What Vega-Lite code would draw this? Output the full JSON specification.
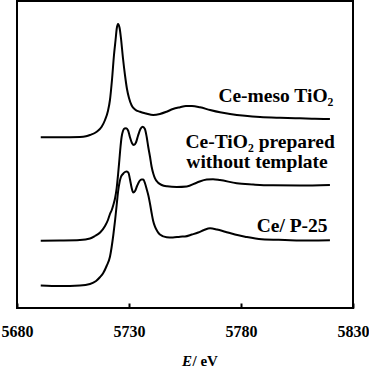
{
  "$schema": "https://vega.github.io/schema/vega-lite/v6.json",
  "width": 336,
  "height": 307,
  "autosize": "none",
  "padding": {"left": 17, "top": 1, "right": 16, "bottom": 59},
  "background": "white",
  "title": {"text": "E", "orient": "bottom", "anchor": "start", "frame": "group", "dx": 165, "offset": -2, "font": "Liberation Serif", "fontSize": 15, "fontWeight": "bold", "fontStyle": "italic", "color": "black", "baseline": "alphabetic"},
  "datasets": {
    "curves": [
      {"s": "meso", "E": 5690.6, "I": 170.7}, {"s": "meso", "E": 5699.2, "I": 170.7}, {"s": "meso", "E": 5708.1, "I": 171}, {"s": "meso", "E": 5710.8, "I": 171.7}, {"s": "meso", "E": 5712.6, "I": 173}, {"s": "meso", "E": 5715.6, "I": 176.3}, {"s": "meso", "E": 5717.8, "I": 181.3}, {"s": "meso", "E": 5719.3, "I": 188}, {"s": "meso", "E": 5720.6, "I": 197}, {"s": "meso", "E": 5721.5, "I": 208}, {"s": "meso", "E": 5722.4, "I": 228}, {"s": "meso", "E": 5723.3, "I": 253}, {"s": "meso", "E": 5724.0, "I": 268}, {"s": "meso", "E": 5724.5, "I": 279}, {"s": "meso", "E": 5725.1, "I": 284}, {"s": "meso", "E": 5725.8, "I": 280}, {"s": "meso", "E": 5726.4, "I": 270}, {"s": "meso", "E": 5727.3, "I": 250}, {"s": "meso", "E": 5728.2, "I": 233}, {"s": "meso", "E": 5729.1, "I": 219}, {"s": "meso", "E": 5730.0, "I": 210}, {"s": "meso", "E": 5731.2, "I": 202.5}, {"s": "meso", "E": 5732.7, "I": 198.5}, {"s": "meso", "E": 5734.9, "I": 196.2}, {"s": "meso", "E": 5737.6, "I": 194.5}, {"s": "meso", "E": 5740.8, "I": 193}, {"s": "meso", "E": 5743.8, "I": 194}, {"s": "meso", "E": 5746.8, "I": 196.3}, {"s": "meso", "E": 5749.6, "I": 199}, {"s": "meso", "E": 5752.8, "I": 200.8}, {"s": "meso", "E": 5755.4, "I": 202}, {"s": "meso", "E": 5758.1, "I": 202}, {"s": "meso", "E": 5761.7, "I": 200.7}, {"s": "meso", "E": 5766.2, "I": 198}, {"s": "meso", "E": 5770.6, "I": 195.7}, {"s": "meso", "E": 5775.1, "I": 194}, {"s": "meso", "E": 5781.8, "I": 192.2}, {"s": "meso", "E": 5788.5, "I": 191}, {"s": "meso", "E": 5797.4, "I": 190.2}, {"s": "meso", "E": 5806.3, "I": 189.7}, {"s": "meso", "E": 5813.0, "I": 189.3}, {"s": "meso", "E": 5819.7, "I": 189},
      {"s": "notemplate", "E": 5690.6, "I": 67.3}, {"s": "notemplate", "E": 5699.2, "I": 67.5}, {"s": "notemplate", "E": 5708.1, "I": 68}, {"s": "notemplate", "E": 5712.6, "I": 69.5}, {"s": "notemplate", "E": 5714.8, "I": 72}, {"s": "notemplate", "E": 5717.1, "I": 75.5}, {"s": "notemplate", "E": 5719.3, "I": 82}, {"s": "notemplate", "E": 5720.6, "I": 88}, {"s": "notemplate", "E": 5721.5, "I": 94}, {"s": "notemplate", "E": 5722.3, "I": 98}, {"s": "notemplate", "E": 5723.0, "I": 103}, {"s": "notemplate", "E": 5723.8, "I": 110}, {"s": "notemplate", "E": 5724.5, "I": 120}, {"s": "notemplate", "E": 5725.1, "I": 133}, {"s": "notemplate", "E": 5725.7, "I": 148}, {"s": "notemplate", "E": 5726.2, "I": 161}, {"s": "notemplate", "E": 5726.7, "I": 171}, {"s": "notemplate", "E": 5727.3, "I": 177}, {"s": "notemplate", "E": 5728.0, "I": 179.5}, {"s": "notemplate", "E": 5728.7, "I": 179.7}, {"s": "notemplate", "E": 5729.6, "I": 177.5}, {"s": "notemplate", "E": 5730.4, "I": 171}, {"s": "notemplate", "E": 5731.3, "I": 165}, {"s": "notemplate", "E": 5732.2, "I": 163}, {"s": "notemplate", "E": 5733.1, "I": 165.5}, {"s": "notemplate", "E": 5734.0, "I": 172}, {"s": "notemplate", "E": 5735.1, "I": 179}, {"s": "notemplate", "E": 5736.1, "I": 181.3}, {"s": "notemplate", "E": 5737.1, "I": 179}, {"s": "notemplate", "E": 5737.9, "I": 171}, {"s": "notemplate", "E": 5738.6, "I": 161}, {"s": "notemplate", "E": 5739.4, "I": 151}, {"s": "notemplate", "E": 5740.1, "I": 141.3}, {"s": "notemplate", "E": 5740.9, "I": 134}, {"s": "notemplate", "E": 5741.6, "I": 129.7}, {"s": "notemplate", "E": 5742.9, "I": 125.5}, {"s": "notemplate", "E": 5744.6, "I": 123}, {"s": "notemplate", "E": 5747.0, "I": 121.7}, {"s": "notemplate", "E": 5751.3, "I": 121}, {"s": "notemplate", "E": 5755.8, "I": 121.5}, {"s": "notemplate", "E": 5760.4, "I": 125.5}, {"s": "notemplate", "E": 5764.7, "I": 128.5}, {"s": "notemplate", "E": 5767.5, "I": 128.8}, {"s": "notemplate", "E": 5770.6, "I": 128}, {"s": "notemplate", "E": 5778.1, "I": 124.7}, {"s": "notemplate", "E": 5785.4, "I": 123.5}, {"s": "notemplate", "E": 5792.9, "I": 122.7}, {"s": "notemplate", "E": 5806.3, "I": 122.5}, {"s": "notemplate", "E": 5819.7, "I": 123},
      {"s": "p25", "E": 5690.6, "I": 22.5}, {"s": "p25", "E": 5699.2, "I": 22}, {"s": "p25", "E": 5708.1, "I": 22.5}, {"s": "p25", "E": 5712.6, "I": 24}, {"s": "p25", "E": 5715.3, "I": 27}, {"s": "p25", "E": 5717.1, "I": 31}, {"s": "p25", "E": 5718.5, "I": 35}, {"s": "p25", "E": 5720.0, "I": 42}, {"s": "p25", "E": 5721.5, "I": 51.3}, {"s": "p25", "E": 5723.0, "I": 73}, {"s": "p25", "E": 5723.8, "I": 88}, {"s": "p25", "E": 5724.5, "I": 103}, {"s": "p25", "E": 5725.1, "I": 116}, {"s": "p25", "E": 5725.8, "I": 126}, {"s": "p25", "E": 5726.4, "I": 131}, {"s": "p25", "E": 5727.3, "I": 134}, {"s": "p25", "E": 5728.2, "I": 136}, {"s": "p25", "E": 5729.0, "I": 136.5}, {"s": "p25", "E": 5729.8, "I": 135}, {"s": "p25", "E": 5730.4, "I": 129}, {"s": "p25", "E": 5731.2, "I": 120}, {"s": "p25", "E": 5731.9, "I": 115.5}, {"s": "p25", "E": 5732.7, "I": 117}, {"s": "p25", "E": 5733.6, "I": 122}, {"s": "p25", "E": 5734.7, "I": 127}, {"s": "p25", "E": 5735.6, "I": 128.5}, {"s": "p25", "E": 5736.4, "I": 128.5}, {"s": "p25", "E": 5737.1, "I": 125}, {"s": "p25", "E": 5738.0, "I": 118}, {"s": "p25", "E": 5738.7, "I": 112}, {"s": "p25", "E": 5739.4, "I": 104}, {"s": "p25", "E": 5740.1, "I": 95}, {"s": "p25", "E": 5740.8, "I": 87}, {"s": "p25", "E": 5741.6, "I": 81.3}, {"s": "p25", "E": 5742.7, "I": 76.5}, {"s": "p25", "E": 5743.8, "I": 73.5}, {"s": "p25", "E": 5746.8, "I": 70.7}, {"s": "p25", "E": 5749.6, "I": 70.5}, {"s": "p25", "E": 5752.8, "I": 71.3}, {"s": "p25", "E": 5755.0, "I": 71.5}, {"s": "p25", "E": 5758.1, "I": 73.5}, {"s": "p25", "E": 5760.9, "I": 75.5}, {"s": "p25", "E": 5763.5, "I": 78}, {"s": "p25", "E": 5766.2, "I": 79.7}, {"s": "p25", "E": 5769.3, "I": 78.5}, {"s": "p25", "E": 5772.9, "I": 76.3}, {"s": "p25", "E": 5777.3, "I": 73.5}, {"s": "p25", "E": 5781.8, "I": 71.3}, {"s": "p25", "E": 5789.2, "I": 68.7}, {"s": "p25", "E": 5799.6, "I": 68}, {"s": "p25", "E": 5810.8, "I": 67.5}, {"s": "p25", "E": 5819.7, "I": 67.7}
    ],
    "labels": [
      {"label": "Ce-meso TiO₂", "E": 5769.9, "I": 206.3},
      {"label": "Ce-TiO₂ prepared", "E": 5755.2, "I": 160},
      {"label": "without template", "E": 5755.6, "I": 140},
      {"label": "Ce/ P-25", "E": 5787.0, "I": 75.7}
    ]
  },
  "layer": [
    {
      "data": {"name": "curves"},
      "mark": {"type": "line", "color": "black", "strokeWidth": 2, "interpolate": "monotone"},
      "encoding": {
        "x": {"field": "E", "type": "quantitative", "scale": {"domain": [5680, 5830], "nice": false, "zero": false},
          "axis": {"values": [5680, 5730, 5780, 5830], "format": "d", "domain": false, "grid": false, "ticks": true, "tickSize": -5, "tickColor": "black", "tickWidth": 2,
            "labelFont": "Liberation Serif", "labelFontSize": 16, "labelFontWeight": "bold", "labelColor": "black", "labelPadding": 20, "labelFlush": false, "labelOverlap": false,
            "title": "/ eV", "titleFont": "Liberation Serif", "titleFontSize": 15, "titleFontWeight": "bold", "titleColor": "black", "titleX": 175, "titleY": 57, "titleAlign": "left", "titleBaseline": "alphabetic", "titleAnchor": "start"}},
        "y": {"field": "I", "type": "quantitative", "scale": {"domain": [0, 307], "nice": false, "zero": false}, "axis": null},
        "detail": {"field": "s"}
      }
    },
    {
      "data": {"name": "labels"},
      "mark": {"type": "text", "align": "left", "baseline": "alphabetic", "font": "Liberation Serif", "fontSize": 19.5, "fontWeight": "bold", "color": "black"},
      "encoding": {
        "x": {"field": "E", "type": "quantitative"},
        "y": {"field": "I", "type": "quantitative"},
        "text": {"field": "label"}
      }
    }
  ],
  "config": {"view": {"stroke": "black", "strokeWidth": 2}}
}
